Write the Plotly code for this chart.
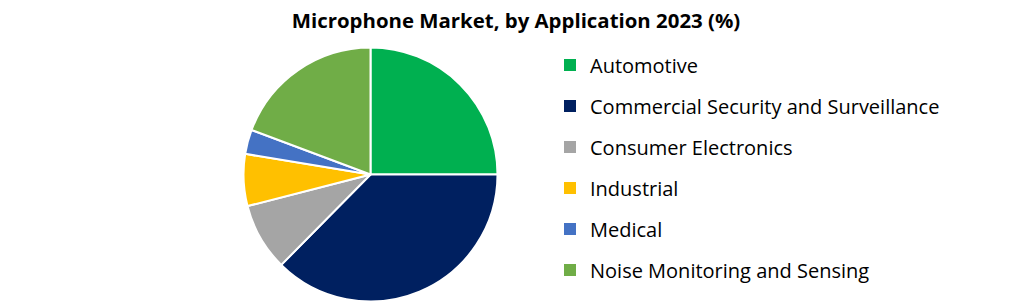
import plotly.graph_objects as go

categories = ["Automotive", "Commercial Security and Surveillance", "Consumer Electronics",
              "Industrial", "Medical", "Noise Monitoring and Sensing"]
shares = [25.0, 37.4, 8.6, 6.6, 3.1, 19.3]
colors = ["#00B050", "#002060", "#A5A5A5", "#FFC000", "#4472C4", "#70AD47"]

W, H = 1021, 304
fig = go.Figure()
fig.add_trace(go.Pie(
    labels=categories, values=shares, sort=False, direction="clockwise", rotation=0,
    marker=dict(colors=colors, line=dict(color="white", width=2)),
    textinfo="none", hoverinfo="label+percent", showlegend=False,
    domain=dict(x=[243.5 / W, 497.5 / W], y=[1 - 301.5 / H, 1 - 47.5 / H]),
))
for i, (c, col) in enumerate(zip(categories, colors)):
    fig.add_trace(go.Scatter(
        x=[None], y=[None], mode="markers", name=c, legendgroup=f"g{i}",
        marker=dict(symbol="square", size=8, color=col),
    ))

fig.update_layout(
    width=W, height=H, margin=dict(l=0, r=0, t=0, b=0),
    paper_bgcolor="white", plot_bgcolor="white",
    xaxis=dict(visible=False), yaxis=dict(visible=False),
    title=dict(text="<b>Microphone Market, by Application 2023 (%)</b>",
               x=516 / W, xanchor="center", y=1 - 21 / H, yanchor="middle",
               font=dict(family="Open Sans", size=20.4, color="#000000")),
    legend=dict(x=550 / W, xanchor="left", y=1 - 45.5 / H, yanchor="top",
                font=dict(family="Open Sans", size=20, color="#000000"),
                tracegroupgap=12, itemsizing="constant", bgcolor="rgba(0,0,0,0)"),
)
fig.write_html("out.html")
